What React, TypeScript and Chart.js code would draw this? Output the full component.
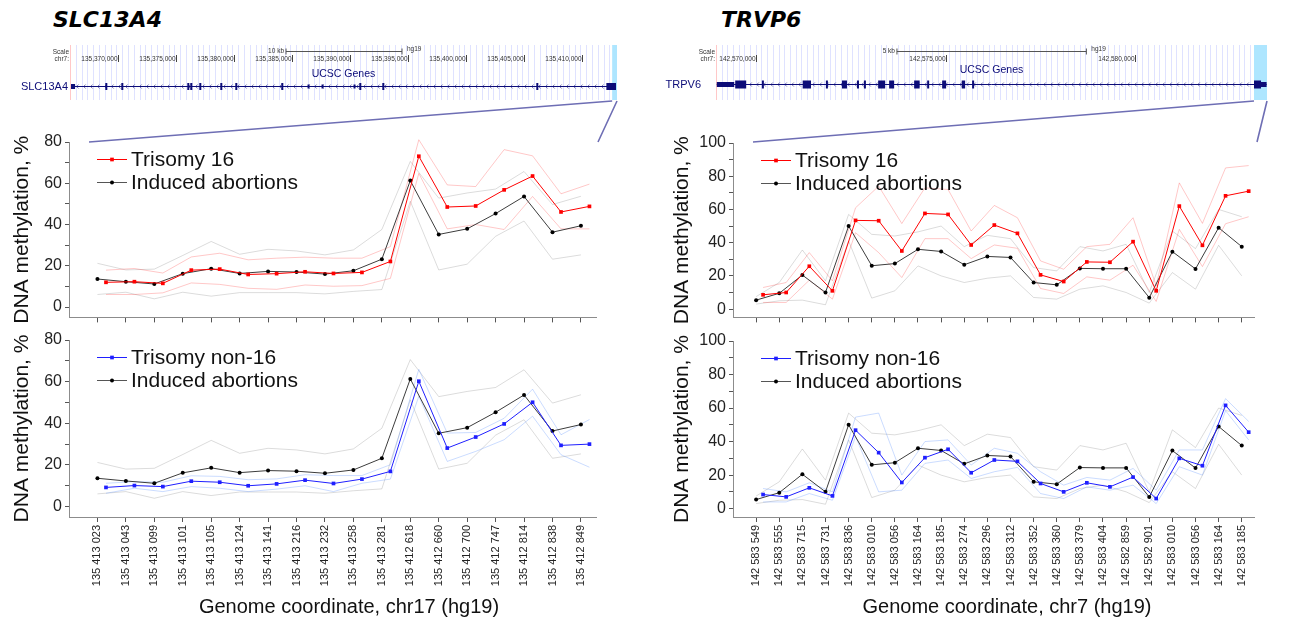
import React, { useEffect, useRef } from 'react';
import { Chart, registerables } from 'chart.js';

Chart.register(...registerables);

const SANS = '"Liberation Sans", Arial, Helvetica, sans-serif';
const NAVY = 'rgb(12,12,120)';

// ---------------- SLC13A4 (left) ----------------
const slcCoords = [
  '135 413 023', '135 413 043', '135 413 099', '135 413 101', '135 413 105', '135 413 124',
  '135 413 141', '135 413 216', '135 413 232', '135 413 258', '135 413 281', '135 412 618',
  '135 412 660', '135 412 700', '135 412 747', '135 412 814', '135 412 838', '135 412 849',
];
const slcInduced = [13.6, 12.3, 11.2, 16.2, 18.6, 16.3, 17.3, 17.0, 16.0, 17.6, 23.2, 61.3, 35.2, 37.9, 45.3, 53.6, 36.3, 39.4];
const slcInducedUp = [21.2, 18.0, 18.4, 25.0, 31.8, 25.6, 28.0, 27.2, 25.3, 27.7, 37.6, 70.6, 52.8, 55.3, 57.2, 65.7, 49.7, 53.7];
const slcInducedLo = [6.1, 7.2, 4.0, 7.2, 5.3, 7.0, 7.0, 7.0, 6.4, 7.6, 8.5, 51.3, 18.0, 20.8, 34.3, 41.7, 23.2, 25.3];
const slcTri16 = [12.0, 12.3, 11.5, 17.9, 18.4, 15.8, 16.2, 17.1, 16.3, 16.8, 22.1, 73.1, 48.5, 49.0, 56.8, 63.5, 46.1, 48.8];
const slcTri16Up = [17.9, 18.7, 16.5, 24.3, 26.1, 22.9, 23.7, 24.2, 23.7, 23.7, 29.3, 81.1, 59.2, 58.4, 76.3, 73.3, 54.9, 59.6];
const slcTri16Lo = [6.1, 6.1, 6.9, 11.7, 11.0, 9.1, 8.6, 10.7, 10.1, 10.4, 13.9, 64.8, 37.9, 40.0, 37.6, 53.6, 37.9, 37.9];
const slcNon16 = [9.2, 10.1, 9.6, 12.2, 11.7, 10.0, 10.9, 12.7, 11.1, 13.2, 16.9, 60.2, 28.1, 33.4, 39.7, 50.1, 29.4, 30.0];
const slcNon16Up = [11.2, 12.0, 11.7, 14.8, 14.5, 12.9, 13.3, 15.3, 14.9, 14.9, 20.1, 65.9, 35.3, 35.6, 42.4, 56.4, 34.5, 41.8];
const slcNon16Lo = [6.4, 8.8, 7.2, 9.6, 8.8, 7.2, 8.4, 10.0, 7.2, 11.2, 13.2, 53.0, 21.7, 26.5, 32.1, 43.4, 24.9, 18.9];
const slcYTicks = [0, 10, 20, 30, 40, 50, 60, 70, 80];

// ---------------- TRPV6 (right) ----------------
const trpCoords = [
  '142 583 549', '142 583 555', '142 583 715', '142 583 731', '142 583 836', '142 583 010',
  '142 583 056', '142 583 164', '142 583 185', '142 583 274', '142 583 296', '142 583 312',
  '142 583 352', '142 583 360', '142 583 379', '142 583 404', '142 582 859', '142 582 901',
  '142 583 010', '142 583 056', '142 583 164', '142 583 185',
];
const trpInduced = [5.4, 9.5, 20.5, 10, 50, 26.1, 27.4, 36, 34.7, 26.7, 31.7, 31.1, 16, 14.6, 24.5, 24.3, 24.3, 6.9, 34.6, 24.2, 49, 37.6];
const trpInducedUp = [7.5, 16, 35.6, 17, 57, 45, 44, 46.5, 50, 37.6, 44.4, 42.4, 25, 23, 37.6, 35, 39, 10, 47, 36.4, 60, 55.6];
const trpInducedLo = [3, 5, 5.4, 2.6, 41, 6.6, 11, 26, 20, 16, 18.6, 20, 7, 6, 12, 14, 10, 3.6, 22, 12, 38.4, 20];
const trpTri16 = [8.6, 10, 25.8, 11, 53.4, 53.2, 35, 57.6, 57, 38.6, 50.6, 45.6, 20.6, 16.6, 28.4, 28.2, 40.6, 11, 62, 38.4, 68.2, 71];
const trpTri16Up = [13, 16, 34, 17, 61, 74, 51.5, 73, 72, 47, 62.4, 55, 29, 24, 37.6, 39, 55, 14, 76, 51.6, 85, 86.4];
const trpTri16Lo = [4, 4, 17.4, 6, 46, 34, 19, 42.4, 42.4, 30.4, 38.6, 36.6, 12.4, 9.4, 19.4, 17.4, 26.4, 4.6, 48, 25.6, 51.4, 55.6];
const trpNon16 = [8.4, 7, 12.4, 7.6, 46.8, 33.4, 15.6, 30.4, 35.4, 21.4, 29, 28.2, 15, 10, 15.4, 13, 18.8, 6, 30, 25.6, 61.6, 45.6];
const trpNon16Up = [12, 10, 15.4, 10, 54.6, 57, 20, 40, 41, 26, 36, 33, 22, 14, 18.6, 17, 24, 11, 35, 35, 65.6, 52];
const trpNon16Lo = [4, 4, 9, 5, 43, 10, 11, 27, 29, 18, 22, 24.6, 9, 6, 13, 11, 14, 3, 25, 20, 58.4, 41];
const trpYTicks = [0, 10, 20, 30, 40, 50, 60, 70, 80, 90, 100];

// ---------------- UCSC gene tracks ----------------
const slcRuler = [135370000, 135375000, 135380000, 135385000, 135390000, 135395000, 135400000, 135405000, 135410000];
const slcScaleBar = [135384483, 135394483];
const slcExons: [number, number, number][] = [
  [135365950, 135366300, 5], [135368906, 135369026, 7], [135370285, 135370405, 7], [135375974, 135376094, 7],
  [135376233, 135376353, 7], [135377009, 135377129, 7], [135378819, 135378939, 7], [135380112, 135380232, 7],
  [135384078, 135384198, 7], [135386339, 135386419, 4], [135387546, 135387626, 4], [135390305, 135390385, 4],
  [135390802, 135390922, 7], [135392785, 135392905, 7], [135406061, 135406181, 7], [135412100, 135412931, 7],
];
const slcGeneSpan = [135366000, 135412931];
const slcHighlight = [135412600, 135413017];
const slcDomain = [135365862, 135413017];

const trpRuler = [142570000, 142575000, 142580000];
const trpScaleBar = [142573715, 142578715];
const trpExons: [number, number, number][] = [
  [142568960, 142569420, 5], [142569446, 142569736, 8], [142570150, 142570200, 8], [142571227, 142571446, 8],
  [142571840, 142571880, 8], [142572264, 142572396, 8], [142572660, 142572700, 8], [142572843, 142572883, 8],
  [142573219, 142573404, 8], [142573509, 142573641, 8], [142574169, 142574314, 8], [142574513, 142574553, 8],
  [142574908, 142575013, 8], [142575425, 142575515, 8], [142575699, 142575752, 8], [142583140, 142583325, 8],
  [142583325, 142583472, 5],
];
const trpGeneSpan = [142568960, 142583472];
const trpHighlight = [142583140, 142583483];
const trpDomain = [142568939, 142583483];

// ---------------- plugins ----------------
const insetLegend = {
  id: 'insetLegend',
  afterDatasetsDraw(chart: any, _args: any, o: any) {
    const { ctx, chartArea } = chart;
    const items = chart.data.datasets.filter((d: any) => d.legendText);
    ctx.save();
    items.forEach((d: any, k: number) => {
      const y = Math.round(chartArea.top + o.top + k * o.gap) + 0.5;
      const x0 = chartArea.left + o.left;
      ctx.strokeStyle = d.legendLine || d.borderColor;
      ctx.lineWidth = 1;
      ctx.beginPath();
      ctx.moveTo(x0, y);
      ctx.lineTo(x0 + o.len, y);
      ctx.stroke();
      const cx = x0 + o.len / 2;
      ctx.fillStyle = d.pointBackgroundColor || d.backgroundColor;
      if (d.pointStyle === 'rect') {
        const s = d.pointRadius * Math.SQRT1_2;
        ctx.fillRect(cx - s, y - s, 2 * s, 2 * s);
      } else {
        ctx.beginPath();
        ctx.arc(cx, y, d.pointRadius, 0, Math.PI * 2);
        ctx.fill();
      }
      ctx.fillStyle = '#111';
      ctx.font = `${o.size}px ${SANS}`;
      ctx.textBaseline = 'middle';
      ctx.textAlign = 'left';
      ctx.fillText(d.legendText, x0 + o.len + 4, y + 1);
    });
    ctx.restore();
  },
};

const ucscTrack = {
  id: 'ucscTrack',
  afterDraw(chart: any, _args: any, o: any) {
    const { ctx, chartArea: ca } = chart;
    const xs = chart.scales.x;
    const px = (g: number) => xs.getPixelForValue(g);
    ctx.save();
    // base-position grid
    ctx.strokeStyle = '#dfe2ff';
    ctx.lineWidth = 1;
    for (let g = o.domain[0]; g <= o.domain[1]; g += o.gridStep) {
      const x = Math.round(px(g)) + 0.5;
      ctx.beginPath();
      ctx.moveTo(x, ca.top);
      ctx.lineTo(x, ca.bottom);
      ctx.stroke();
    }
    ctx.strokeStyle = '#ffc8c8';
    ctx.beginPath();
    ctx.moveTo(Math.round(ca.left) + 0.5, ca.top);
    ctx.lineTo(Math.round(ca.left) + 0.5, ca.bottom);
    ctx.stroke();
    // highlight
    ctx.fillStyle = '#aee6ff';
    ctx.fillRect(px(o.highlight[0]), ca.top, px(o.highlight[1]) - px(o.highlight[0]), ca.bottom - ca.top);

    // Scale / chr labels
    ctx.fillStyle = '#333';
    ctx.font = `6.5px ${SANS}`;
    ctx.textBaseline = 'middle';
    ctx.textAlign = 'right';
    ctx.fillText('Scale', ca.left - 1, ca.top + 7);
    ctx.fillText('chr7:', ca.left - 1, ca.top + 14);

    // scale bar
    const b0 = px(o.scaleBar[0]);
    const b1 = px(o.scaleBar[1]);
    const by = Math.round(ca.top + 6) + 0.5;
    ctx.strokeStyle = '#555';
    ctx.beginPath();
    ctx.moveTo(b0, by);
    ctx.lineTo(b1, by);
    ctx.moveTo(b0, by - 3);
    ctx.lineTo(b0, by + 3);
    ctx.moveTo(b1, by - 3);
    ctx.lineTo(b1, by + 3);
    ctx.stroke();
    ctx.fillText(o.scaleLabel, b0 - 2, by);
    ctx.textAlign = 'left';
    ctx.fillText('hg19', b1 + 5, by - 2);

    // ruler
    ctx.textAlign = 'right';
    o.ruler.forEach((g: number) => {
      const x = Math.round(px(g)) + 0.5;
      ctx.strokeStyle = '#444';
      ctx.beginPath();
      ctx.moveTo(x, ca.top + 10);
      ctx.lineTo(x, ca.top + 17);
      ctx.stroke();
      ctx.fillText(g.toLocaleString('en-US'), x - 1, ca.top + 14);
    });

    // track title
    ctx.fillStyle = NAVY;
    ctx.font = `10.5px ${SANS}`;
    ctx.textAlign = 'center';
    ctx.fillText('UCSC Genes', (ca.left + ca.right) / 2, ca.top + o.titleDy);

    // gene
    const gy = Math.round(ca.top + o.geneDy) + 0.5;
    ctx.strokeStyle = NAVY;
    ctx.lineWidth = 1;
    const gx0 = px(o.geneSpan[0]);
    const gx1 = px(o.geneSpan[1]);
    ctx.beginPath();
    ctx.moveTo(gx0, gy);
    ctx.lineTo(gx1, gy);
    ctx.stroke();
    ctx.strokeStyle = 'rgba(12,12,120,0.55)';
    for (let x = gx0 + 5; x < gx1 - 4; x += 7) {
      ctx.beginPath();
      ctx.moveTo(x + 2, gy - 2);
      ctx.lineTo(x, gy);
      ctx.lineTo(x + 2, gy + 2);
      ctx.stroke();
    }
    ctx.fillStyle = NAVY;
    o.exons.forEach((e: [number, number, number]) => {
      const a = px(e[0]);
      const w = Math.max(2, px(e[1]) - a);
      ctx.fillRect(a, gy - e[2] / 2, w, e[2]);
    });
    ctx.font = `11px ${SANS}`;
    ctx.textAlign = 'right';
    ctx.fillText(o.gene, o.nameRight, gy);

    // connectors to the zoomed charts
    ctx.strokeStyle = '#6e6eb4';
    ctx.lineWidth = 1.6;
    ctx.beginPath();
    ctx.moveTo(px(o.highlight[0]), ca.bottom + 1);
    ctx.lineTo(o.connA, chart.height - 1);
    ctx.moveTo(px(o.highlight[1]), ca.bottom + 1);
    ctx.lineTo(o.connB, chart.height - 1);
    ctx.stroke();
    ctx.restore();
  },
};

// ---------------- config builders ----------------
const OFFSET = 0.3;
const pts = (arr: number[], off: number) => arr.map((v, i) => ({ x: i + off, y: v }));

function bandDs(arr: number[], off: number, color: string) {
  return { data: pts(arr, off), borderColor: color, borderWidth: 1, pointRadius: 0, clip: false, tension: 0 };
}

function lineConfig(p: any) {
  const n = p.coords.length;
  return {
    type: 'line',
    data: {
      datasets: [
        {
          legendText: p.groupLabel, data: pts(p.group, OFFSET), borderColor: p.groupColor,
          backgroundColor: p.groupColor, pointBackgroundColor: p.groupColor, borderWidth: 1,
          pointStyle: 'rect', pointRadius: 2.6, pointBorderWidth: 0, clip: false, tension: 0,
        },
        {
          legendText: 'Induced abortions', data: pts(p.induced, 0), borderColor: '#3c3c3c',
          legendLine: '#555', backgroundColor: '#000', pointBackgroundColor: '#000', borderWidth: 1,
          pointStyle: 'circle', pointRadius: 2, pointBorderWidth: 0, clip: false, tension: 0,
        },
        bandDs(p.groupUp, OFFSET, p.bandColor),
        bandDs(p.groupLo, OFFSET, p.bandColor),
        bandDs(p.indUp, 0, 'rgba(0,0,0,0.14)'),
        bandDs(p.indLo, 0, 'rgba(0,0,0,0.14)'),
      ],
    },
    options: {
      responsive: false,
      animation: false,
      devicePixelRatio: 1,
      events: [],
      layout: { padding: { top: p.padTop, right: p.padRight, left: 0, bottom: 0 } },
      plugins: {
        legend: { display: false },
        tooltip: { enabled: false },
        insetLegend: { left: 28, top: 17, gap: 23, len: 30, size: 21 },
      },
      scales: {
        x: {
          type: 'linear',
          min: -1,
          max: n - 1 + 0.53,
          afterBuildTicks: (s: any) => { s.ticks = p.coords.map((_: string, i: number) => ({ value: i })); },
          afterFit: (s: any) => { s.height = p.xHeight; },
          grid: { drawOnChartArea: false, drawTicks: true, tickLength: 5, tickColor: '#555', tickWidth: 1 },
          border: { display: true, color: '#8c8c8c', width: 1 },
          ticks: {
            display: p.showLabels, autoSkip: false, maxRotation: 90, minRotation: 90,
            font: { family: SANS, size: 11 }, color: '#222', padding: 3,
            callback: (_v: any, i: number) => p.coords[i],
          },
        },
        y: {
          type: 'linear',
          min: -5,
          max: p.yMax,
          afterBuildTicks: (s: any) => { s.ticks = p.yTicks.map((v: number) => ({ value: v })); },
          afterFit: (s: any) => { s.width = p.yWidth; },
          grid: { drawOnChartArea: false, drawTicks: true, tickLength: 4, tickColor: '#555' },
          border: { display: true, color: '#8c8c8c', width: 1 },
          ticks: {
            autoSkip: false, font: { family: SANS, size: 16 }, color: '#222', padding: 3,
            callback: (v: number) => (v % 20 === 0 ? String(v) : ''),
          },
          title: {
            display: true, text: 'DNA methylation, %', font: { family: SANS, size: 21 },
            color: '#111', padding: { top: 10, bottom: 0 },
          },
        },
      },
    },
    plugins: [insetLegend],
  };
}

function trackConfig(t: any) {
  return {
    type: 'line',
    data: { datasets: [] },
    options: {
      responsive: false,
      animation: false,
      devicePixelRatio: 1,
      events: [],
      layout: { padding: t.padding },
      plugins: { legend: { display: false }, tooltip: { enabled: false }, ucscTrack: t },
      scales: {
        x: { type: 'linear', min: t.domain[0], max: t.domain[1], display: false },
        y: { type: 'linear', min: 0, max: 1, display: false },
      },
    },
    plugins: [ucscTrack],
  };
}

function ChartCanvas({ left, top, width, height, make }: any) {
  const ref = useRef<HTMLCanvasElement>(null);
  useEffect(() => {
    const chart = new Chart(ref.current as HTMLCanvasElement, make());
    return () => chart.destroy();
  }, []);
  return (
    <canvas
      ref={ref}
      width={width}
      height={height}
      style={{ position: 'absolute', left, top, width, height }}
    />
  );
}

const RED = '#ff0000';
const RED_BAND = 'rgba(255,0,0,0.22)';
const BLUE = '#1f1fff';
const BLUE_BAND = 'rgba(70,130,255,0.28)';

const titleStyle: any = {
  position: 'absolute', top: 9, font: 'bold italic 22px "DejaVu Sans", Verdana, sans-serif',
  lineHeight: '22px', color: '#000', whiteSpace: 'nowrap',
};
const xTitleStyle: any = {
  position: 'absolute', top: 594, width: 420, textAlign: 'center',
  font: `20px ${SANS}`, lineHeight: '24px', color: '#111', whiteSpace: 'nowrap',
};

export default function App() {
  return (
    <div style={{ position: 'absolute', left: 0, top: 0, width: 1300, height: 627, background: '#fff', overflow: 'hidden' }}>
      <div style={{ ...titleStyle, left: 53 }}>SLC13A4</div>
      <div style={{ ...titleStyle, left: 721 }}>TRVP6</div>

      <ChartCanvas left={0} top={40} width={625} height={103} make={() => trackConfig({
        padding: { left: 70, right: 8, top: 5, bottom: 43 },
        domain: slcDomain, gridStep: 500, highlight: slcHighlight, ruler: slcRuler,
        scaleBar: slcScaleBar, scaleLabel: '10 kb', gene: 'SLC13A4', geneSpan: slcGeneSpan,
        exons: slcExons, nameRight: 68, titleDy: 29, geneDy: 41, connA: 89, connB: 598,
      })} />
      <ChartCanvas left={660} top={40} width={625} height={103} make={() => trackConfig({
        padding: { left: 56, right: 18, top: 5, bottom: 43 },
        domain: trpDomain, gridStep: 150, highlight: trpHighlight, ruler: trpRuler,
        scaleBar: trpScaleBar, scaleLabel: '5 kb', gene: 'TRPV6', geneSpan: trpGeneSpan,
        exons: trpExons, nameRight: 41, titleDy: 25, geneDy: 39, connA: 93, connB: 597,
      })} />

      <ChartCanvas left={0} top={125} width={610} height={205} make={() => lineConfig({
        coords: slcCoords, groupLabel: 'Trisomy 16', groupColor: RED, bandColor: RED_BAND,
        group: slcTri16, groupUp: slcTri16Up, groupLo: slcTri16Lo,
        induced: slcInduced, indUp: slcInducedUp, indLo: slcInducedLo,
        yMax: 80, yTicks: slcYTicks, showLabels: false,
        padTop: 17, padRight: 14, yWidth: 69, xHeight: 11,
      })} />
      <ChartCanvas left={0} top={325} width={610} height={302} make={() => lineConfig({
        coords: slcCoords, groupLabel: 'Trisomy non-16', groupColor: BLUE, bandColor: BLUE_BAND,
        group: slcNon16, groupUp: slcNon16Up, groupLo: slcNon16Lo,
        induced: slcInduced, indUp: slcInducedUp, indLo: slcInducedLo,
        yMax: 80, yTicks: slcYTicks, showLabels: true,
        padTop: 15, padRight: 14, yWidth: 69, xHeight: 110,
      })} />
      <ChartCanvas left={660} top={125} width={610} height={205} make={() => lineConfig({
        coords: trpCoords, groupLabel: 'Trisomy 16', groupColor: RED, bandColor: RED_BAND,
        group: trpTri16, groupUp: trpTri16Up, groupLo: trpTri16Lo,
        induced: trpInduced, indUp: trpInducedUp, indLo: trpInducedLo,
        yMax: 100, yTicks: trpYTicks, showLabels: false,
        padTop: 18, padRight: 16, yWidth: 73, xHeight: 11,
      })} />
      <ChartCanvas left={660} top={325} width={610} height={302} make={() => lineConfig({
        coords: trpCoords, groupLabel: 'Trisomy non-16', groupColor: BLUE, bandColor: BLUE_BAND,
        group: trpNon16, groupUp: trpNon16Up, groupLo: trpNon16Lo,
        induced: trpInduced, indUp: trpInducedUp, indLo: trpInducedLo,
        yMax: 100, yTicks: trpYTicks, showLabels: true,
        padTop: 16, padRight: 16, yWidth: 73, xHeight: 110,
      })} />

      <div style={{ ...xTitleStyle, left: 139 }}>Genome coordinate, chr17 (hg19)</div>
      <div style={{ ...xTitleStyle, left: 797 }}>Genome coordinate, chr7 (hg19)</div>
    </div>
  );
}
